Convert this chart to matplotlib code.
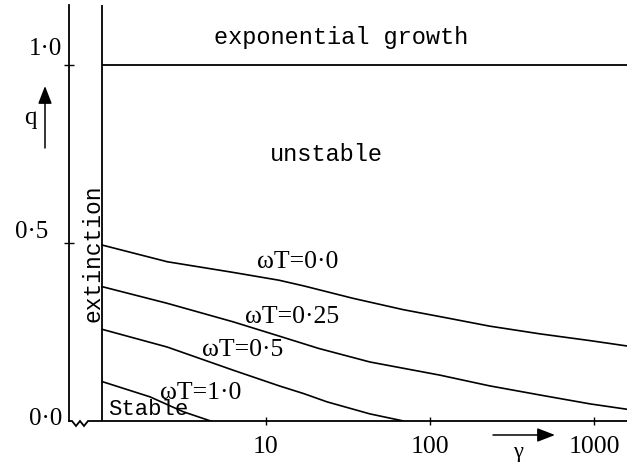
import numpy as np
import matplotlib.pyplot as plt
from matplotlib.ticker import NullLocator

# stability boundaries q(gamma)
gamma_00 = [1, 2.5, 6.3, 12, 17, 34, 69, 130, 230, 470, 950, 1590]
q_00 = [0.495, 0.448, 0.418, 0.396, 0.380, 0.345, 0.313, 0.289, 0.267,
        0.245, 0.226, 0.211]
gamma_025 = [1, 2.5, 6.3, 12, 21, 43, 115, 230, 470, 950, 1590]
q_025 = [0.378, 0.331, 0.279, 0.239, 0.204, 0.166, 0.129, 0.099, 0.073,
         0.048, 0.033]
gamma_05 = [1, 2.5, 6.3, 12, 17, 23.5, 43, 69]
q_05 = [0.258, 0.208, 0.143, 0.099, 0.077, 0.054, 0.020, 0.0]
gamma_10 = [1, 1.96, 3.13, 4.6]
q_10 = [0.111, 0.068, 0.026, 0.0]

curve_labels = ['ωT=0·0', 'ωT=0·25', 'ωT=0·5', 'ωT=1·0']

growth_q = 1.0
extinction_gamma = 1.0

xtick_vals = [10, 100, 1000]
xtick_labels = ['10', '100', '1000']
ytick_vals = [0.0, 0.5, 1.0]
ytick_labels = ['0·0', '0·5', '1·0']

MONO = 'Liberation Mono'
SERIF = 'Liberation Serif'
LW = 1.3


def main():
    W, H = 627, 462
    fig = plt.figure(figsize=(W / 100, H / 100), dpi=100)
    # axes box in pixels: left 69, right 627, baseline 421, top 5
    ax = fig.add_axes([69 / W, (H - 421) / H, (627 - 69) / W, (421 - 5) / H])
    ax.set_xscale('log')
    xmin, xmax = 10 ** (1 + (69 - 266) / 164), 10 ** (1 + (627 - 266) / 164)
    ax.set_xlim(xmin, xmax)
    ax.set_ylim(0, 416 / 355.5)

    for s in ['top', 'right', 'bottom']:
        ax.spines[s].set_visible(False)
    ax.spines['left'].set_linewidth(LW)

    # baseline with axis break
    zx = np.array([69, 72, 76, 80, 84, 88, 92, 627])
    zy = np.array([421, 421, 426, 421, 426, 421, 421, 421])
    ax.plot((zx - 69) / 558, (421 - zy) / 416, color='k', lw=LW,
            transform=ax.transAxes, clip_on=False, solid_joinstyle='miter')

    ax.axvline(extinction_gamma, color='k', lw=LW)
    ax.hlines(growth_q, extinction_gamma, xmax, color='k', lw=LW)

    for g, q in [(gamma_00, q_00), (gamma_025, q_025),
                 (gamma_05, q_05), (gamma_10, q_10)]:
        ax.plot(g, q, color='k', lw=1.2)

    ax.set_xticks(xtick_vals, labels=xtick_labels)
    ax.xaxis.set_minor_locator(NullLocator())
    ax.tick_params(axis='x', direction='inout', length=6, width=1,
                   pad=8, labelsize=18.5)
    for t in ax.get_xticklabels():
        t.set_family(SERIF)

    ax.set_yticks([v for v in ytick_vals if v > 0])
    ax.set_yticklabels([])
    ax.yaxis.set_minor_locator(NullLocator())
    ax.tick_params(axis='y', direction='inout', length=6.5, width=1)

    ydx = [-0.0125, -0.0376, -0.0125]
    ydy = [0.006, 0.032, 0.046]
    for v, lab, dx, dy in zip(ytick_vals, ytick_labels, ydx, ydy):
        ax.text(dx, v + dy, lab, transform=ax.get_yaxis_transform(),
                ha='right', va='center', family=SERIF, fontsize=18)

    # region labels
    ax.text(28.6, 1.08, 'exponential growth', family=MONO, fontsize=17,
            ha='center', va='center')
    ax.text(23.5, 0.751, 'unstable', family=MONO, fontsize=17,
            ha='center', va='center')
    ax.text(0.88, 0.472, 'extinction', family=MONO, fontsize=16.5,
            ha='center', va='center', rotation=90)
    ax.text(1.09, 0.031, 'Stable', family=MONO, fontsize=16,
            ha='left', va='center')

    label_pos = [(15.5, 0.447), (14.4, 0.293), (7.2, 0.2), (4.0, 0.079)]
    for lab, (gx, qy) in zip(curve_labels, label_pos):
        ax.text(gx, qy, lab, family=SERIF, fontsize=18.5,
                ha='center', va='center')

    # axis arrows
    arr = dict(arrowstyle='-|>,head_length=0.9,head_width=0.35',
               color='k', lw=1.1, shrinkA=0, shrinkB=0, mutation_scale=12)
    ax.annotate('', xy=(45, H - 86), xytext=(45, H - 148),
                xycoords='figure pixels', textcoords='figure pixels',
                arrowprops=arr)
    ax.annotate('', xy=(555, H - 435), xytext=(493, H - 435),
                xycoords='figure pixels', textcoords='figure pixels',
                arrowprops=arr)
    fig.text(30 / W, (H - 118) / H, 'q', family=SERIF, fontsize=18,
             ha='center', va='center')
    fig.text(518 / W, (H - 452) / H, 'γ', family=SERIF, fontsize=16,
             ha='center', va='center')

    fig.savefig('out.png', dpi=100)


if __name__ == "__main__":
    main()
